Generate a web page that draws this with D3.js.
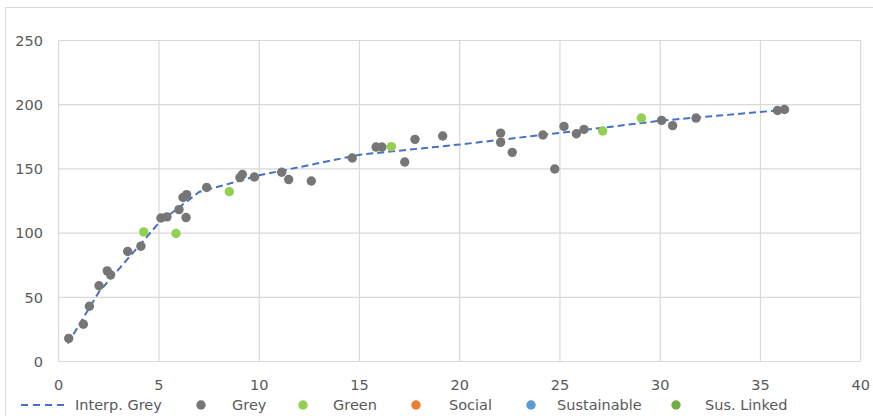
<!DOCTYPE html>
<html><head><meta charset="utf-8">
<script src="https://cdn.jsdelivr.net/npm/d3@7"></script>
<style>body{margin:0;background:#fff;} svg{display:block;} text{font-family:"DejaVu Sans",sans-serif;fill:#595959;}</style>
</head><body>
<svg id="c" width="873" height="416"></svg>
<script>
const greyX = [0.5,1.23,1.53,2.01,2.42,2.59,3.44,4.10,5.10,5.40,6.0,6.35,6.2,6.38,7.38,9.04,9.16,9.76,11.12,11.47,12.6,14.64,15.83,16.12,17.26,17.77,19.15,22.04,22.04,22.62,24.15,24.74,25.2,25.82,26.2,30.07,30.62,31.79,35.85,36.2];
const greyY = [18,29,43,59,70.6,67.5,85.7,89.8,111.8,112.6,118.3,112.1,127.7,130,135.5,143.2,145.6,143.7,147.4,141.7,140.6,158.5,167,167,155.4,173,175.6,177.9,170.7,162.9,176.4,149.9,183.1,177.4,180.8,187.8,183.7,189.6,195.5,196.3];
const greenX = [4.24,5.85,8.51,16.59,27.13,29.06];
const greenY = [100.9,99.7,132.3,167.3,179.5,189.6];
const interpX = [0.45,1,2,3,5,7,10,15,20,25,30,36.2];
const interpY = [14,28,54,72,108,132,145,161,169,178,187.5,196];
const xTicks = [0,5,10,15,20,25,30,35,40];
const yTicks = [0,50,100,150,200,250];
const legendNames = ["Interp. Grey","Grey","Green","Social","Sustainable","Sus. Linked"];
const colors = {"Interp. Grey":"#4472c4","Grey":"#767676","Green":"#92d050","Social":"#ed7d31","Sustainable":"#5b9bd5","Sus. Linked":"#70ad47"};

const svg = d3.select("#c");
const x = d3.scaleLinear().domain([0,40]).range([58.7,860.7]);
const y = d3.scaleLinear().domain([0,250]).range([361.5,40.5]);

svg.append("rect").attr("x",5.5).attr("y",7.5).attr("width",873).attr("height",420).attr("fill","none").attr("stroke","#d9d9d9");

const g = svg.append("g");
g.selectAll(".vg").data(xTicks).join("line").attr("x1",d=>x(d)).attr("x2",d=>x(d)).attr("y1",y(0)).attr("y2",y(250)).attr("stroke","#d9d9d9").attr("stroke-width",1.2);
g.selectAll(".hg").data(yTicks).join("line").attr("x1",x(0)).attr("x2",x(40)).attr("y1",d=>y(d)).attr("y2",d=>y(d)).attr("stroke","#d9d9d9").attr("stroke-width",1.2);

g.selectAll(".yl").data(yTicks).join("text").attr("x",43).attr("y",d=>y(d)).attr("dy","0.36em").attr("text-anchor","end").attr("font-size",14.5).text(d=>d);
g.selectAll(".xl").data(xTicks).join("text").attr("x",d=>x(d)).attr("y",385).attr("dy","0.36em").attr("text-anchor","middle").attr("font-size",14.5).text(d=>d);

const line = d3.line().x((d,i)=>x(interpX[i])).y((d,i)=>y(interpY[i]));
g.append("path").attr("d",line(interpX)).attr("fill","none").attr("stroke",colors["Interp. Grey"]).attr("stroke-width",2).attr("stroke-dasharray","7,4");

g.selectAll(".gp").data(greyX).join("circle").attr("cx",d=>x(d)).attr("cy",(d,i)=>y(greyY[i])).attr("r",4.7).attr("fill",colors["Grey"]);
g.selectAll(".gn").data(greenX).join("circle").attr("cx",d=>x(d)).attr("cy",(d,i)=>y(greenY[i])).attr("r",4.7).attr("fill",colors["Green"]);

// legend
const ly = 405;
const lg = svg.append("g");
lg.append("line").attr("x1",21).attr("x2",67).attr("y1",ly).attr("y2",ly).attr("stroke",colors["Interp. Grey"]).attr("stroke-width",2).attr("stroke-dasharray","7,5");
lg.append("text").attr("x",75).attr("y",ly).attr("dy","0.36em").attr("font-size",14.5).text(legendNames[0]);
const dotX = [201,303,416,531,676];
const txtX = [232,333,449,557,705];
for (let i=1;i<legendNames.length;i++){
  lg.append("circle").attr("cx",dotX[i-1]).attr("cy",ly).attr("r",4.7).attr("fill",colors[legendNames[i]]);
  lg.append("text").attr("x",txtX[i-1]).attr("y",ly).attr("dy","0.36em").attr("font-size",14.5).text(legendNames[i]);
}
</script>
</body></html>
